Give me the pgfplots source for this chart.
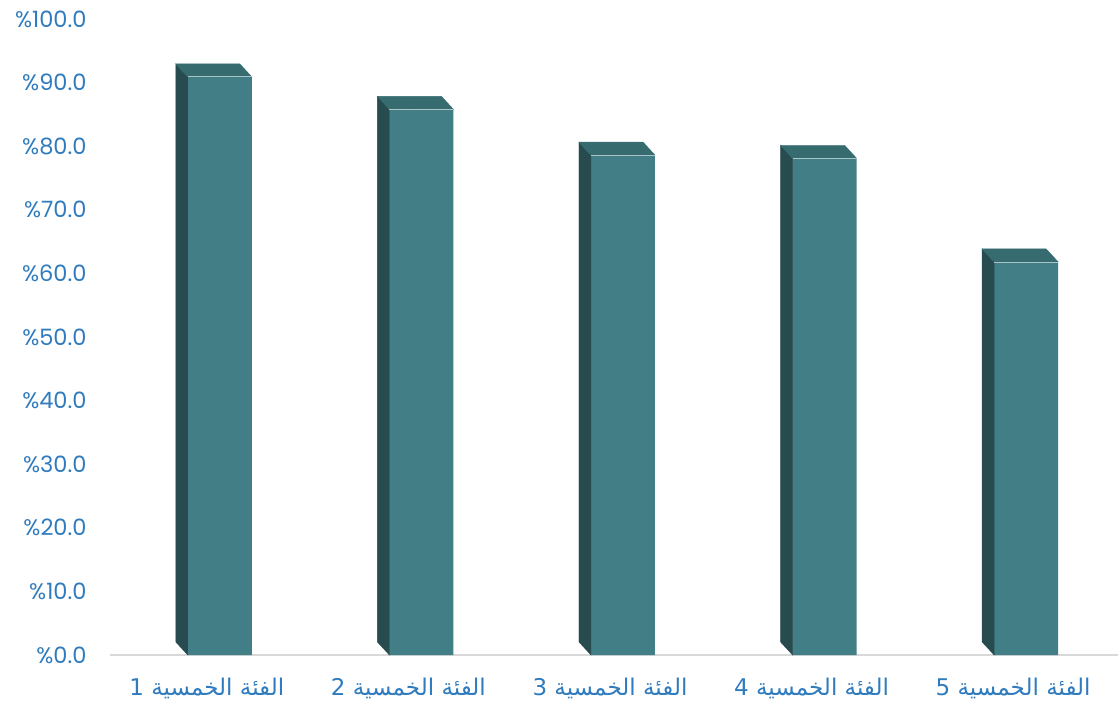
\documentclass[border=0pt]{standalone}
\usepackage{fontspec}
\setmainfont{Poppins}
\newfontfamily\arabicfont[Script=Arabic]{DejaVu Sans}
\TeXXeTstate=1
\usepackage{pgfplots}
\pgfplotsset{compat=1.18}
\definecolor{frontc}{HTML}{427E85}
\definecolor{topc}{HTML}{366C70}
\definecolor{sidec}{HTML}{274B4F}
\definecolor{labc}{HTML}{2F7BBD}
\begin{document}
\begin{tikzpicture}
\begin{axis}[
    name=ax,
    scale only axis,
    width=1008bp, height=636bp,
    xmin=0.5, xmax=5.5, ymin=0, ymax=100,
    axis line style={draw=none},
    major tick length=0pt,
    xtick={1,2,3,4,5},
    xticklabels={
      {\arabicfont\beginR الفئة الخمسية 1\endR},
      {\arabicfont\beginR الفئة الخمسية 2\endR},
      {\arabicfont\beginR الفئة الخمسية 3\endR},
      {\arabicfont\beginR الفئة الخمسية 4\endR},
      {\arabicfont\beginR الفئة الخمسية 5\endR}},
    ytick={0,10,...,100},
    yticklabel={\%\pgfmathprintnumber[fixed,fixed zerofill,precision=1]{\tick}},
    /pgf/number format/assume math mode=true,
    yticklabel style={font=\fontsize{22.5bp}{26bp}\selectfont, text=labc, xshift=-20bp},
    xticklabel style={font=\fontsize{23bp}{27bp}\selectfont, text=labc, yshift=-20bp, xshift=-4bp},
    clip=false,
]
\draw[black!15, line width=1.5bp] (axis cs:0.5,0) -- (axis cs:5.5,0);
% front faces
\addplot[ybar, bar width=64bp, bar shift=9bp, fill=frontc, draw=none]
  coordinates {(1,90.9) (2,85.8) (3,78.6) (4,78.1) (5,61.8)};
% side and top faces, drawn from the same values
\addplot[scatter, only marks, mark=*, mark size=0pt,
  mark options={draw=none, fill=none},
  visualization depends on={rawy \as \val},
  scatter/@pre marker code/.code={%
    \pgfmathsetmacro\hh{6.36*\val}%
    \fill[sidec] (-23bp,0bp) -- (-35bp,13bp) -- (-35bp,{(13-\hh)*1bp}) -- (-23bp,{-\hh*1bp}) -- cycle;
    \fill[topc] (-23bp,0bp) -- (-35bp,13bp) -- (29bp,13bp) -- (41bp,0bp) -- cycle;
    \draw[white!55!frontc, line width=0.8bp] (-23bp,0bp) -- (41bp,0bp);
  },
  scatter/@post marker code/.code={}]
  coordinates {(1,90.9) (2,85.8) (3,78.6) (4,78.1) (5,61.8)};
\end{axis}
\pgfresetboundingbox
\path (ax.south west) ++(-110bp,-49bp) rectangle ++(1118bp,704bp);
\end{tikzpicture}
\end{document}
